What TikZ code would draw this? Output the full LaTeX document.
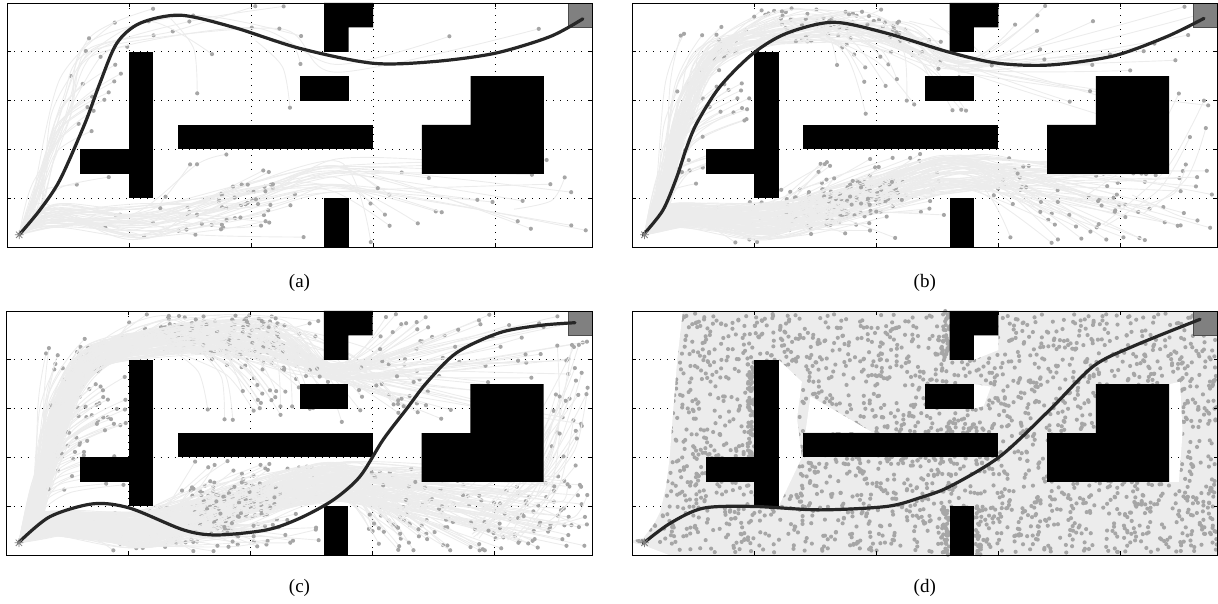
\documentclass[tikz,border=0pt]{standalone}
\usepackage{fontspec}
\setmainfont{Liberation Serif}
\newcommand\gridlines{%
  \foreach \gx in {5,10,15,20} {\draw[gridline] (\gx,0) -- (\gx,10);}
  \foreach \gy in {2,4,6,8} {\draw[gridline] (0,\gy) -- (24,\gy);}}
\newcommand\obstacles{%
  \fill[obst] (5,2) rectangle (6,8);
  \fill[obst] (3,3) rectangle (5,4);
  \fill[obst] (7,4) rectangle (15,5);
  \fill[obst] (12,6) rectangle (14,7);
  \fill[obst] (13,8) -- (13,10) -- (15,10) -- (15,9) -- (14,9) -- (14,8) -- cycle;
  \fill[obst] (13,0) rectangle (14,2);
  \fill[obst] (17,3) -- (17,5) -- (19,5) -- (19,7) -- (22,7) -- (22,3) -- cycle;
  \filldraw[goalbox] (23,9) rectangle (24,10);}
\newcommand\frameaxes{%
  \draw[frame] (0,0) rectangle (24,10);
  \foreach \gx in {5,10,15,20} {\draw[frame] (\gx,0) -- ++(0,4pt); \draw[frame] (\gx,10) -- ++(0,-4pt);}
  \foreach \gy in {2,4,6,8} {\draw[frame] (0,\gy) -- ++(4pt,0); \draw[frame] (24,\gy) -- ++(-4pt,0);}}
\newcommand\startmark{%
  \draw[startmark] (0.5,0.5) +(-0.18,0) -- +(0.18,0) +(0,-0.18) -- +(0,0.18)
    +(-0.13,-0.13) -- +(0.13,0.13) +(-0.13,0.13) -- +(0.13,-0.13);}
% ---- tree families ----
\newcommand\famLowA[1]{\foreach \i in {1,...,#1}{%
  \pgfmathsetmacro\ax{1.4+0.8*rnd}\pgfmathsetmacro\ay{0.8+1.0*rnd}%
  \pgfmathsetmacro\ex{3.4+3.5*rnd}\pgfmathsetmacro\ey{0.15+1.7*rnd}%
  \draw[tree] plot[smooth] coordinates {(0.5,0.5) (\ax,\ay) (\ex,\ey)};
  \fill[treedot] (\ex,\ey) circle (0.085);}}
\newcommand\famLowB[1]{\foreach \i in {1,...,#1}{%
  \pgfmathsetmacro\ax{1.4+0.8*rnd}\pgfmathsetmacro\ay{0.8+1.0*rnd}%
  \pgfmathsetmacro\bx{5.5+0.8*(rnd-0.5)}\pgfmathsetmacro\by{0.3+1.5*rnd}%
  \pgfmathsetmacro\ex{7.5+5.3*rnd}\pgfmathsetmacro\ey{0.15+3.7*rnd}%
  \pgfmathsetmacro\tpar{0.3+0.4*rnd}%
  \pgfmathsetmacro\mx{\bx+(\ex-\bx)*\tpar}\pgfmathsetmacro\my{\by+(\ey-\by)*\tpar+0.8*(rnd-0.5)}%
  \draw[tree] plot[smooth] coordinates {(0.5,0.5) (\ax,\ay) (\bx,\by) (\mx,\my) (\ex,\ey)};
  \fill[treedot] (\mx,\my) circle (0.085);
  \fill[treedot] (\ex,\ey) circle (0.085);}}
\newcommand\famLowC[1]{\foreach \i in {1,...,#1}{%
  \pgfmathsetmacro\ax{1.4+0.8*rnd}\pgfmathsetmacro\ay{0.8+1.0*rnd}%
  \pgfmathsetmacro\bx{5.5+0.8*(rnd-0.5)}\pgfmathsetmacro\by{0.3+1.5*rnd}%
  \pgfmathsetmacro\qx{13.3+0.4*rnd}\pgfmathsetmacro\qy{2.2+1.6*rnd}%
  \pgfmathsetmacro\tpar{0.3+0.4*rnd}%
  \pgfmathsetmacro\mx{\bx+(\qx-\bx)*\tpar}\pgfmathsetmacro\my{\by+(\qy-\by)*\tpar+0.8*(rnd-0.5)}%
  \pgfmathsetmacro\ex{14.8+9.0*rnd}\pgfmathsetmacro\ey{0.15+3.5*rnd}%
  \draw[tree] plot[smooth] coordinates {(0.5,0.5) (\ax,\ay) (\bx,\by) (\mx,\my) (\qx,\qy) (\ex,\ey)};
  \fill[treedot] (\mx,\my) circle (0.085);
  \fill[treedot] (\ex,\ey) circle (0.085);}}
\newcommand\famUp[1]{\foreach \i in {1,...,#1}{%
  \pgfmathsetmacro\ax{0.9+0.6*rnd}\pgfmathsetmacro\ay{1.3+0.9*rnd}%
  \pgfmathsetmacro\ex{1.6+3.3*rnd}\pgfmathsetmacro\ey{2.5+6.7*rnd}%
  \pgfmathsetmacro\mx{\ax+(\ex-\ax)*0.35}\pgfmathsetmacro\my{\ay+(\ey-\ay)*0.7}%
  \draw[tree] plot[smooth] coordinates {(0.5,0.5) (\ax,\ay) (\mx,\my) (\ex,\ey)};
  \fill[treedot] (\ex,\ey) circle (0.085);}}
\newcommand\famTopA[1]{\foreach \i in {1,...,#1}{%
  \pgfmathsetmacro\ax{1.0+0.5*rnd}\pgfmathsetmacro\ay{2.0+1.0*rnd}%
  \pgfmathsetmacro\bx{1.9+0.7*rnd}\pgfmathsetmacro\by{5.0+1.3*rnd}%
  \pgfmathsetmacro\cx{3.2+0.8*rnd}\pgfmathsetmacro\cy{7.6+1.0*rnd}%
  \pgfmathsetmacro\ex{4.9+3.1*rnd}\pgfmathsetmacro\ey{8.2+1.7*rnd}%
  \draw[tree] plot[smooth] coordinates {(0.5,0.5) (\ax,\ay) (\bx,\by) (\cx,\cy) (\ex,\ey)};
  \fill[treedot] (\cx,\cy) circle (0.085);
  \fill[treedot] (\ex,\ey) circle (0.085);}}
\newcommand\famTopB[1]{\foreach \i in {1,...,#1}{%
  \pgfmathsetmacro\ax{1.0+0.5*rnd}\pgfmathsetmacro\ay{2.0+1.0*rnd}%
  \pgfmathsetmacro\bx{1.9+0.7*rnd}\pgfmathsetmacro\by{5.0+1.3*rnd}%
  \pgfmathsetmacro\cx{3.2+0.8*rnd}\pgfmathsetmacro\cy{7.6+1.0*rnd}%
  \pgfmathsetmacro\ex{8.3+4.5*rnd}\pgfmathsetmacro\ey{7.6+2.3*rnd}%
  \pgfmathsetmacro\mx{(\cx+\ex)/2}\pgfmathsetmacro\my{8.4+1.4*rnd}%
  \draw[tree] plot[smooth] coordinates {(0.5,0.5) (\ax,\ay) (\bx,\by) (\cx,\cy) (\mx,\my) (\ex,\ey)};
  \fill[treedot] (\mx,\my) circle (0.085);
  \fill[treedot] (\ex,\ey) circle (0.085);}}
\newcommand\famTopC[1]{\foreach \i in {1,...,#1}{%
  \pgfmathsetmacro\ax{1.0+0.5*rnd}\pgfmathsetmacro\ay{2.0+1.0*rnd}%
  \pgfmathsetmacro\bx{1.9+0.7*rnd}\pgfmathsetmacro\by{5.0+1.3*rnd}%
  \pgfmathsetmacro\cx{3.2+0.8*rnd}\pgfmathsetmacro\cy{7.6+1.0*rnd}%
  \pgfmathsetmacro\mx{7.5+4*rnd}\pgfmathsetmacro\my{8.3+1.4*rnd}%
  \pgfmathsetmacro\qx{13.3+0.4*rnd}\pgfmathsetmacro\qy{7.15+0.7*rnd}%
  \pgfmathsetmacro\ex{15.3+8.5*rnd}\pgfmathsetmacro\ey{5.3+4.6*rnd}%
  \draw[tree] plot[smooth] coordinates {(0.5,0.5) (\ax,\ay) (\bx,\by) (\cx,\cy) (\mx,\my) (\qx,\qy) (\ex,\ey)};
  \fill[treedot] (\mx,\my) circle (0.085);
  \fill[treedot] (\ex,\ey) circle (0.085);}}
\newcommand\famMid[1]{\foreach \i in {1,...,#1}{%
  \pgfmathsetmacro\sx{6.5+6*rnd}\pgfmathsetmacro\sy{8.2+1.4*rnd}%
  \pgfmathsetmacro\ex{\sx+1+3.5*rnd}\pgfmathsetmacro\ey{5.4+2.4*rnd}%
  \pgfmathsetmacro\mx{(\sx+\ex)/2+0.4}\pgfmathsetmacro\my{(\sy+\ey)/2+0.3}%
  \draw[tree] plot[smooth] coordinates {(\sx,\sy) (\mx,\my) (\ex,\ey)};
  \fill[treedot] (\ex,\ey) circle (0.085);}}
\newcommand\famRight[1]{\foreach \i in {1,...,#1}{%
  \pgfmathsetmacro\sx{18+4*rnd}\pgfmathsetmacro\sy{0.5+2*rnd}%
  \pgfmathsetmacro\ex{22.3+1.6*rnd}\pgfmathsetmacro\ey{1+7.8*rnd}%
  \pgfmathsetmacro\mx{(\sx+\ex)/2+0.5}\pgfmathsetmacro\my{(\sy+\ey)/2-0.3}%
  \draw[tree] plot[smooth] coordinates {(\sx,\sy) (\mx,\my) (\ex,\ey)};
  \fill[treedot] (\ex,\ey) circle (0.085);}}
% random dots in a box: count, x0, width, y0, height
\newcommand\boxdots[5]{\foreach \i in {1,...,#1}{%
  \pgfmathsetmacro\ex{#2+#3*rnd}\pgfmathsetmacro\ey{#4+#5*rnd}%
  \fill[treedot] (\ex,\ey) circle (0.085);}}
\newcommand\whitepatches{%
  (0,0) -- (1.5,0) -- (0.45,0.4) -- (0,0.5) -- cycle
  (0,0.6) -- (0.45,0.7) -- (0.9,1.3) -- (1.15,1.8) -- (1.38,2.8) -- (1.53,4) -- (1.68,6) -- (1.84,8) -- (2.07,10) -- (0,10) -- cycle
  (6,8) -- (6.95,7.1) -- (6.75,5.6) -- (6.95,4.0) -- (6,2) -- cycle
  (7.1,5.05) -- (7.3,6.5) -- (9.8,5.05) -- cycle
  (14,7) -- (14,6) -- (14.4,6.1) -- (14.7,6.9) -- cycle
  (14,8) -- (14,9) -- (15,9) -- (15,8.4) -- cycle
  (22,3) -- (22,7) -- (22.45,7.1) -- (22.55,5) -- (22.4,3) -- cycle}
\begin{document}
\begin{tikzpicture}[x=24.4pt,y=24.4pt,
  tree/.style={draw=gray!15,line width=0.9pt},
  treedot/.style={fill=black!35},
  obst/.style={fill=black},
  gridline/.style={black,line width=0.8pt,dash pattern=on 0.9pt off 6.1pt},
  frame/.style={draw=black,line width=0.9pt},
  goalbox/.style={fill=gray,draw=black!70,line width=0.8pt},
  bestpath/.style={draw=black!85,line width=3.2pt,line cap=round},
  startmark/.style={draw=gray,line width=0.8pt},
  caption/.style={font=\fontsize{19}{22}\selectfont}]
\useasboundingbox (0,0) rectangle (1218pt,603pt);
% (a)
\begin{scope}[shift={(7pt,356pt)}]
  \gridlines
  \pgfmathsetseed{11}
  \famLowA{5}\famLowB{15}\famLowC{25}\famUp{15}\famTopA{3}\famTopB{4}\famTopC{2}\famMid{3}\famRight{1}
  \obstacles
  \frameaxes
  \draw[bestpath] plot[smooth] coordinates {(0.5,0.5) (1.35,1.52) (2.17,2.75) (3.2,5.08) (3.81,6.72) (4.5,8.35) (5.45,9.17) (7.1,9.5) (9.3,9.0) (12,8.14) (15,7.53) (17.5,7.6) (20,7.94) (22.25,8.62) (23.6,9.35)};
  \startmark
\end{scope}
% (b)
\begin{scope}[shift={(632.3pt,356pt)}]
  \gridlines
  \pgfmathsetseed{23}
  \famLowA{15}\famLowB{45}\famLowC{80}\famUp{45}\famTopA{12}\famTopB{22}\famTopC{22}\famMid{18}\famRight{6}
  \obstacles
  \frameaxes
  \draw[bestpath] plot[smooth] coordinates {(0.45,0.5) (1.25,1.5) (1.8,2.8) (2.2,4.0) (2.64,5.07) (3.59,6.57) (4.96,7.94) (6.33,8.76) (8.24,9.21) (10.43,8.76) (13.0,7.98) (15,7.53) (17.12,7.46) (19.72,7.83) (21.9,8.62) (23.43,9.37)};
  \startmark
\end{scope}
% (c)
\begin{scope}[shift={(6.7pt,48pt)}]
  \gridlines
  \pgfmathsetseed{37}
  \famLowA{25}\famLowB{75}\famLowC{160}\famUp{90}\famTopA{25}\famTopB{55}\famTopC{70}\famMid{45}\famRight{30}
  \obstacles
  \frameaxes
  \draw[bestpath] plot[smooth] coordinates {(0.48,0.5) (1.77,1.57) (3.55,2.1) (5.05,1.92) (7.24,1.03) (8.6,0.82) (10.66,1.03) (12.02,1.51) (13.39,2.26) (14.48,3.22) (15.43,4.73) (16.4,6.0) (17.21,7.06) (18.44,8.29) (20.2,9.11) (21.86,9.41) (23.29,9.52)};
  \startmark
\end{scope}
% (d)
\begin{scope}[shift={(632.3pt,48pt)}]
  \gridlines
  \fill[gray!15] (0,0) rectangle (24,10);
  \pgfmathsetseed{53}
  \boxdots{2500}{0.1}{23.8}{0.1}{9.8}
  \boxdots{60}{4.72}{0.26}{4}{4}
  \boxdots{40}{12.7}{0.28}{0}{2}
  \boxdots{30}{14.02}{0.3}{0}{2}
  \boxdots{30}{12.7}{0.28}{8}{2}
  \boxdots{40}{23.6}{0.35}{0}{9}
  \boxdots{30}{7}{8}{3.7}{0.28}
  \boxdots{20}{10}{5}{5.02}{0.28}
  \fill[white] \whitepatches;
  \begin{scope}
    \clip \whitepatches;
    \gridlines
  \end{scope}
  \obstacles
  \frameaxes
  \draw[bestpath] plot[smooth] coordinates {(0.45,0.48) (1.55,1.3) (2.91,1.92) (4.96,1.99) (7.69,1.85) (10.43,1.99) (11.8,2.35) (13.02,2.81) (15.07,4.04) (17.12,5.96) (18.9,7.74) (20.54,8.56) (23.27,9.66)};
  \startmark
\end{scope}
\node[caption] (la) at (299.5pt,320pt) {(a)};
\node[caption] (lb) at (924.8pt,320pt) {(b)};
\node[caption] (lc) at (299.5pt,15pt) {(c)};
\node[caption] (ld) at (924.8pt,15pt) {(d)};
\end{tikzpicture}
\end{document}
